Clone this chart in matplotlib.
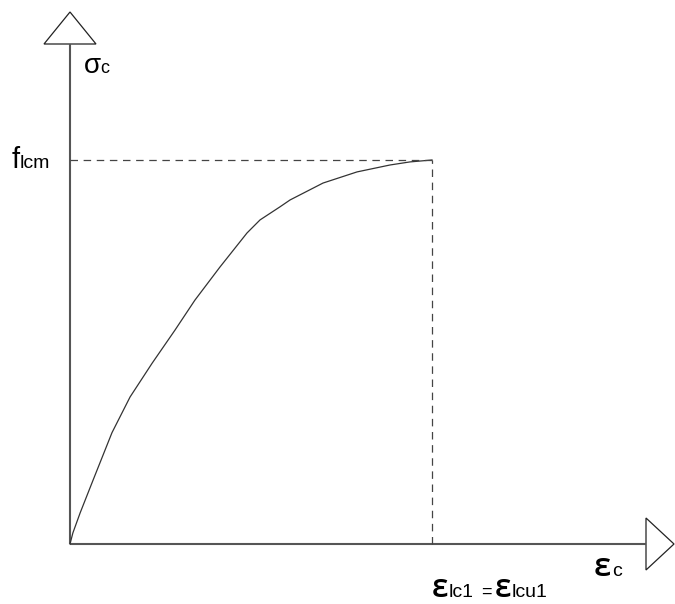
import numpy as np
import matplotlib.pyplot as plt
from matplotlib.patches import Polygon

# ==========================
# DATA (normalised: strain / eps_lc1, stress / f_lcm)
# ==========================
strain = [0.0, 0.008, 0.028, 0.064, 0.116, 0.166, 0.227, 0.290, 0.345,
          0.414, 0.489, 0.525, 0.580, 0.608, 0.699, 0.793, 0.884, 0.939, 1.0]
stress = [0.0, 0.029, 0.081, 0.167, 0.290, 0.383, 0.471, 0.557, 0.635,
          0.721, 0.810, 0.844, 0.878, 0.896, 0.940, 0.969, 0.987, 0.995, 1.0]

eps_peak = 1.0   # eps_lc1 = eps_lcu1
f_peak = 1.0     # f_lcm

W, H = 675, 604
plt.rcParams['font.family'] = ['Liberation Sans', 'DejaVu Sans']

fig = plt.figure(figsize=(W / 100, H / 100), dpi=100)
ax = fig.add_axes([0, 0, 1, 1])
ax.set_xlim(-70 / 362, (W - 70) / 362)
ax.set_ylim((544 - H) / 384, 544 / 384)
ax.axis("off")

axis_col = "#555555"

# ==========================
# AXES WITH ARROW HEADS
# ==========================
x_end = 576 / 362
y_end = 500 / 384
ax.plot([0, 0], [0, y_end], color=axis_col, lw=1.5, solid_capstyle="butt")
ax.plot([0, x_end], [0, 0], color=axis_col, lw=1.5, solid_capstyle="butt")

hx = 26 / 362
hy = 26 / 384
ax.add_patch(Polygon([[-hx, y_end], [hx, y_end], [0, 532 / 384]],
                     closed=True, facecolor="white", edgecolor="#222222", lw=0.9))
ax.add_patch(Polygon([[x_end, -hy], [x_end, hy], [604 / 362, 0]],
                     closed=True, facecolor="white", edgecolor="#222222", lw=0.9))

# ==========================
# STRESS-STRAIN CURVE
# ==========================
ax.plot(strain, stress, color="#333333", lw=0.9)

# dashed guides to the peak
dash = dict(color="#444444", lw=0.9, dashes=(6, 4.5))
ax.plot([0, eps_peak], [f_peak, f_peak], **dash)
ax.plot([eps_peak, eps_peak], [0, f_peak], **dash)

# ==========================
# LABELS
# ==========================
def label(x_px, y_px, s, size, **kw):
    fig.text(x_px / W, 1 - y_px / H, s, fontsize=size, va="baseline",
             ha="left", color="black", **kw)

eps_kw = dict(family="Open Sans", fontweight="semibold")

label(84, 73, "σ", 20)
label(100, 73, "c", 13)

label(12, 168, "f", 21)
label(20, 168, "lcm", 14)

label(594, 576, "ε", 24, **eps_kw)
label(612, 576, "c", 14)

label(432, 597, "ε", 23, **eps_kw)
label(449, 597, "lc1", 14)
label(481, 597, "=", 13)
label(495, 597, "ε", 23, **eps_kw)
label(512, 597, "lcu1", 14)

plt.savefig("out.png", dpi=100)
